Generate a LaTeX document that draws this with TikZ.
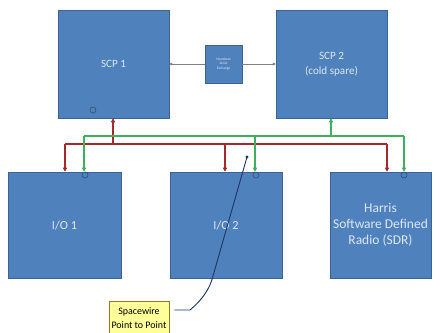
\documentclass[tikz,border=0pt]{standalone}
\usepackage{fontspec}
\setmainfont{Carlito}
\usetikzlibrary{arrows.meta, positioning, calc}

\definecolor{boxblue}{HTML}{4F81BD}
\definecolor{boxedge}{HTML}{3A6396}
\definecolor{boxtext}{HTML}{DDE7F3}
\definecolor{busred}{HTML}{A5282A}
\definecolor{busgreen}{HTML}{3DB05E}
\definecolor{notefill}{HTML}{FFFF99}
\definecolor{noteedge}{HTML}{8C7A2A}
\definecolor{leader}{HTML}{1F3864}

\begin{document}
\begin{tikzpicture}[x=0.03cm, y=-0.03cm,
  unit/.style={rectangle, fill=boxblue, draw=boxedge, line width=0.4pt, inner sep=0pt, align=center, text=boxtext, font=\fontsize{9.5}{13}\selectfont},
  cpu/.style={unit, minimum width=3.33cm, minimum height=3.24cm},
  iobox/.style={unit, minimum height=3.18cm, font=\fontsize{10.5}{13.8}\selectfont},
  port/.style={draw=boxedge!70!black, line width=0.4pt},
  redbus/.style={busred, line width=1.3pt},
  greenbus/.style={busgreen, line width=1.3pt},
  tip/.style={-{Triangle[length=3.5pt,width=3.5pt]}},
  link/.style={gray, line width=0.5pt},
  note/.style={rectangle, draw=noteedge, fill=notefill, line width=0.5pt, align=center, inner sep=2pt, font=\fontsize{8.5}{11.5}\selectfont}
]

% background and page size
\fill[white] (0,0) rectangle (440,333);
\useasboundingbox (0,0) rectangle (440,333);

% processors
\node[cpu] (scp1) at (113.5,64) {SCP 1};
\node[cpu] (scp2) at (331.5,64) {SCP 2\\(cold spare)};
\node[unit, minimum width=1.11cm, minimum height=1.14cm, font=\fontsize{3}{3.8}\selectfont] (hb) at (223.5,64) {Heartbeat\\Serial\\Exchange};

% heartbeat link
\draw[link, {Triangle[length=2.5pt,width=2.5pt]}-] (scp1) -- (hb);
\draw[link, -{Triangle[length=2.5pt,width=2.5pt]}] (hb) -- (scp2);

% lower row
\node[iobox, minimum width=3.39cm] (io1) at (64.5,225) {I/O 1};
\node[iobox, minimum width=3.36cm] (io2) at (226,225) {I/O 2};
\node[iobox, minimum width=3.03cm, font=\fontsize{11.5}{13.8}\selectfont] (sdr) at (380.5,225) {Harris\\Software Defined\\Radio (SDR)};

% port marks
\draw[port] (93,110) circle (0.09cm);
\draw[port] (85,175) circle (0.09cm);
\draw[port] (256,175) circle (0.09cm);
\draw[port] (404,175) circle (0.09cm);

% bus points
\coordinate (rL) at (65,144);
\coordinate (rU) at (113,144);
\coordinate (rM) at (225,144);
\coordinate (rR) at (387,144);
\coordinate (gL) at (84,136);
\coordinate (gM) at (255,136);
\coordinate (gU) at (331,136);
\coordinate (gR) at (404,136);

% red bus (SCP 1)
\draw[redbus] (rL) -- (rR);
\draw[redbus, tip] (rU) -- (rU |- scp1.south);
\draw[redbus, tip] (rL) -- (rL |- io1.north);
\draw[redbus, tip] (rM) -- (rM |- io2.north);
\draw[redbus, tip] (rR) -- (rR |- sdr.north);

% green bus (SCP 2)
\draw[greenbus] (gL) -- (gR);
\draw[greenbus, tip] (gU) -- (gU |- scp2.south);
\draw[greenbus, tip] (gL) -- (gL |- io1.north);
\draw[greenbus, tip] (gM) -- (gM |- io2.north);
\draw[greenbus, tip] (gR) -- (gR |- sdr.north);

% callout
\node[note, minimum width=1.8cm, minimum height=1.0cm] (spw) at (139,318) {Spacewire\\Point to Point};
\coordinate (lead) at (247,157);
\draw[leader, line width=0.8pt] ([xshift=0.15cm]spw.east |- 0,310) -- (190,310)
  .. controls (201,301) and (210,289) .. (213,276) -- (lead);
\fill[leader] (lead) circle (0.05cm);

\end{tikzpicture}
\end{document}
